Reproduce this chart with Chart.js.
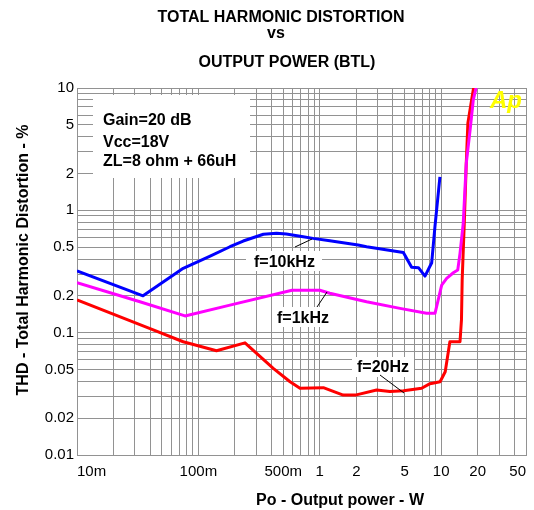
<!DOCTYPE html>
<html>
<head>
<meta charset="utf-8">
<script src="https://cdn.jsdelivr.net/npm/chart.js@4.4.1/dist/chart.umd.min.js"></script>
<style>
  html, body { margin: 0; padding: 0; background: #fff; }
  #wrap { width: 534px; height: 510px; }
</style>
</head>
<body>
<div id="wrap"><canvas id="thd_chart" width="534" height="510"></canvas></div>
<script>
// tick labels
const xTickValues = [0.01, 0.1, 0.5, 1, 2, 5, 10, 20, 50];
const xTickText = ['10m', '100m', '500m', '1', '2', '5', '10', '20', '50'];
const yTickValues = [0.01, 0.02, 0.05, 0.1, 0.2, 0.5, 1, 2, 5, 10];
const yTickText = ['0.01', '0.02', '0.05', '0.1', '0.2', '0.5', '1', '2', '5', '10'];

// f=10kHz
const power10k = [0.01, 0.035, 0.075, 0.125, 0.182, 0.234, 0.343, 0.44, 0.53, 0.73, 0.88, 1.21, 2.07, 2.43, 4.88, 5.71, 6.5, 7.36, 8.36, 8.89, 9.77];
const thd10k   = [0.32, 0.20, 0.336, 0.423, 0.504, 0.561, 0.637, 0.65, 0.64, 0.608, 0.59, 0.565, 0.52, 0.504, 0.453, 0.342, 0.34, 0.29, 0.373, 0.735, 1.88];

// f=1kHz
const power1k = [0.01, 0.033, 0.0776, 0.182, 0.59, 1.0, 1.21, 2.43, 4.58, 7.58, 8.9, 10.1, 11.1, 12.6, 13.7, 14.3, 15.2, 16.1, 17.3, 18.4, 19.4];
const thd1k   = [0.256, 0.179, 0.137, 0.168, 0.222, 0.222, 0.21, 0.179, 0.158, 0.144, 0.144, 0.245, 0.278, 0.309, 0.325, 0.445, 0.78, 2.42, 4.5, 8.0, 10];

// f=20Hz
const power20 = [0.01, 0.04, 0.075, 0.141, 0.242, 0.414, 0.569, 0.687, 1.07, 1.56, 2.0, 2.94, 3.78, 4.9, 6.9, 8.1, 9.8, 10.8, 11.8, 14.3, 14.7, 14.9, 15.5, 16.1, 16.6, 17.9, 18.5];
const thd20   = [0.185, 0.108, 0.0843, 0.0711, 0.0826, 0.051, 0.0397, 0.0351, 0.0355, 0.0309, 0.031, 0.034, 0.033, 0.0335, 0.0351, 0.0383, 0.0397, 0.0479, 0.0843, 0.0843, 0.127, 0.269, 0.78, 2.42, 5.15, 8.2, 10];

const FONT = '"Liberation Sans", Arial, sans-serif';
const GRID = '#929292';

function toPoints(xs, ys) {
  return xs.map((x, i) => ({ x: x, y: ys[i] }));
}

// grid lines at 1..9 of every decade
function decadeLines(min, max) {
  let out = [];
  for (let d = min; d <= max; d *= 10) {
    for (let m = 1; m <= 9; m++) {
      let v = parseFloat((m * d).toPrecision(3));
      if (v >= min - 1e-9 && v <= max + 1e-9) out.push(v);
    }
  }
  return out;
}

function labelFor(values, texts, v) {
  let i = values.findIndex(t => Math.abs(t - v) / t < 1e-6);
  return i >= 0 ? texts[i] : '';
}

const notes = {
  id: 'notes',
  beforeDatasetsDraw(chart) {
    const c = chart.ctx;
    c.save();
    c.fillStyle = '#fff';
    c.fillRect(93, 95, 157, 83);
    c.fillRect(246, 251, 76, 20);
    c.fillRect(272, 307, 62, 20);
    c.fillRect(352, 357, 62, 20);
    c.restore();
  },
  afterDatasetsDraw(chart) {
    const c = chart.ctx;
    c.save();
    c.fillStyle = '#000';
    c.font = 'bold 16px ' + FONT;
    c.textBaseline = 'alphabetic';
    c.textAlign = 'left';
    c.fillText('Gain=20 dB', 103, 125);
    c.fillText('Vcc=18V', 103, 147);
    c.fillText('ZL=8 ohm + 66uH', 103, 166);

    c.fillText('f=10kHz', 254, 267);
    c.fillText('f=1kHz', 277, 323);
    c.fillText('f=20Hz', 357, 372);

    c.strokeStyle = '#000';
    c.lineWidth = 1;
    c.beginPath();
    c.moveTo(295, 247); c.lineTo(312, 239);
    c.moveTo(317, 307); c.lineTo(327, 292);
    c.moveTo(380, 375); c.lineTo(404, 393);
    c.stroke();

    c.fillStyle = '#ffff00';
    c.font = 'italic bold 24px ' + FONT;
    c.fillText('Ap', 490, 108);
    c.restore();
  },
  afterDraw(chart) {
    const c = chart.ctx;
    c.save();
    c.fillStyle = '#000';
    c.font = 'bold 16px ' + FONT;
    c.textAlign = 'center';
    c.textBaseline = 'alphabetic';
    c.fillText('TOTAL HARMONIC DISTORTION', 281, 22);
    c.fillText('vs', 276, 38);
    c.fillText('OUTPUT POWER (BTL)', 287, 67);

    c.fillText('Po - Output power - W', 340, 505);
    c.translate(28, 260);
    c.rotate(-Math.PI / 2);
    c.fillText('THD - Total Harmonic Distortion - %', 0, 0);
    c.restore();
  }
};

const config = {
  type: 'line',
  data: {
    datasets: [
      { label: 'f=10kHz', data: toPoints(power10k, thd10k), borderColor: '#0000ff' },
      { label: 'f=1kHz', data: toPoints(power1k, thd1k), borderColor: '#ff00ff' },
      { label: 'f=20Hz', data: toPoints(power20, thd20), borderColor: '#ff0000' }
    ]
  },
  options: {
    responsive: false,
    animation: false,
    devicePixelRatio: 1,
    layout: { padding: { top: 88, right: 8, left: 0, bottom: 0 } },
    elements: {
      line: { borderWidth: 3, tension: 0, borderJoinStyle: 'round' },
      point: { radius: 0 }
    },
    plugins: {
      legend: { display: false },
      title: { display: false },
      tooltip: { enabled: false }
    },
    scales: {
      x: {
        type: 'logarithmic',
        min: 0.01,
        max: 50,
        afterBuildTicks: s => { s.ticks = decadeLines(0.01, 50).map(v => ({ value: v })); },
        afterFit: s => { s.height = 55; },
        grid: { color: GRID, lineWidth: 1, drawTicks: false },
        border: { color: GRID },
        ticks: {
          autoSkip: false, maxRotation: 0, minRotation: 0, align: 'inner', padding: 8,
          color: '#000', font: { family: FONT, size: 15 },
          callback: v => labelFor(xTickValues, xTickText, v)
        }
      },
      y: {
        type: 'logarithmic',
        min: 0.01,
        max: 10,
        afterBuildTicks: s => { s.ticks = decadeLines(0.01, 10).map(v => ({ value: v })); },
        afterFit: s => { s.width = 77; },
        grid: { color: GRID, lineWidth: 1, drawTicks: false },
        border: { color: GRID },
        ticks: {
          autoSkip: false, padding: 3,
          color: '#000', font: { family: FONT, size: 15 },
          callback: v => labelFor(yTickValues, yTickText, v)
        }
      }
    }
  },
  plugins: [notes]
};

new Chart(document.getElementById('thd_chart'), config);
</script>
</body>
</html>
